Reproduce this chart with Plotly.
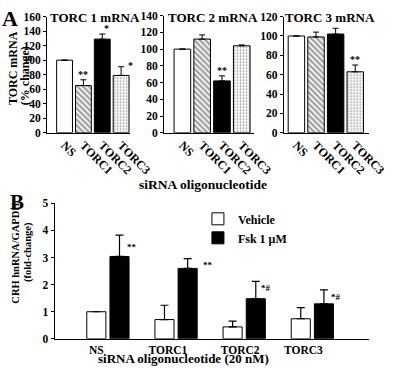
import plotly.graph_objects as go

# ---------------- data ----------------
a_categories = ["NS", "TORC1", "TORC2", "TORC3"]
a_titles = ["TORC 1 mRNA", "TORC 2 mRNA", "TORC 3 mRNA"]
a1_values = [100, 65, 129, 79]
a1_errors = [0, 8, 7, 12]
a1_stars = ["", "**", "*", "*"]
a2_values = [100, 112, 62, 104]
a2_errors = [0, 5, 6, 1]
a2_stars = ["", "", "**", ""]
a3_values = [100, 99, 102, 63]
a3_errors = [0, 5, 6, 7]
a3_stars = ["", "", "", "**"]
a_ymax = [160, 140, 120]

b_categories = ["NS", "TORC1", "TORC2", "TORC3"]
b_vehicle = [1.0, 0.71, 0.44, 0.74]
b_vehicle_err = [0, 0.53, 0.21, 0.41]
b_fsk = [3.04, 2.6, 1.48, 1.29]
b_fsk_err = [0.79, 0.36, 0.64, 0.52]
b_fsk_stars = ["**", "**", "*#", "*#"]
b_series = ["Vehicle", "Fsk 1 \u03bcM"]

FONT = "Liberation Serif"
W, H = 400, 369


def px_x(p):
    return p / W


def px_y(p):
    return 1 - p / H


fig = go.Figure()

# ---------------- panel A ----------------
a_vals = [a1_values, a2_values, a3_values]
a_errs = [a1_errors, a2_errors, a3_errors]
a_stars = [a1_stars, a2_stars, a3_stars]
# pixel geometry per panel: (axis x, first centre, spacing, right end, top px)
a_geom = [(50, 68.5, 20.0, 138, 11), (174, 193.5, 21.0, 269, 10), (301, 314.5, 20.8, 392, 11)]
a_title_cx = [101, 226, 350]
bar_colors = ["white", "white", "black", "white"]
pat_shapes = ["", "\\", "", "."]
pat_fg = ["black", "black", "black", "#555555"]
pat_size = [4, 4, 4, 3]
pat_sol = [0.3, 0.6, 0.3, 0.3]

for k in range(3):
    ax_x, c0, sp, right, top = a_geom[k]
    xa = "x" if k == 0 else f"x{k+1}"
    ya = "y" if k == 0 else f"y{k+1}"
    fig.add_trace(go.Bar(
        x=list(range(len(a_categories))), y=a_vals[k], width=0.84,
        marker=dict(color=bar_colors, line=dict(color="black", width=1),
                    pattern=dict(shape=pat_shapes, fgcolor=pat_fg,
                                 size=pat_size, solidity=pat_sol)),
        error_y=dict(type="data", symmetric=False, array=a_errs[k],
                     arrayminus=[0] * 4, color="black", thickness=1, width=3),
        xaxis=xa, yaxis=ya, showlegend=False,
    ))
    axname = "xaxis" if k == 0 else f"xaxis{k+1}"
    yname = "yaxis" if k == 0 else f"yaxis{k+1}"
    fig.layout[axname] = dict(
        domain=[px_x(ax_x), px_x(right)], range=[(ax_x - c0) / sp, (right - c0) / sp],
        tickvals=list(range(4)), ticktext=a_categories, tickangle=45,
        showline=True, linecolor="black", linewidth=1, ticks="", ticklen=0,
        showgrid=False, zeroline=False, anchor=ya,
        tickfont=dict(family=FONT, size=12, color="black", weight="bold"),
    )
    fig.layout[yname] = dict(
        domain=[px_y(131), px_y(top)],
        range=[0, a_ymax[k]], dtick=20,
        showline=True, linecolor="black", linewidth=1, ticks="outside",
        ticklen=3, tickcolor="black", showgrid=False, zeroline=False,
        anchor=xa,
        tickfont=dict(family=FONT, size=11.5, color="black", weight="bold"),
    )
    fig.add_annotation(text=f"<b>{a_titles[k]}</b>", x=px_x(a_title_cx[k]), y=px_y(12),
                       xref="paper", yref="paper", xanchor="center", yanchor="middle",
                       showarrow=False, font=dict(family=FONT, size=13, color="black"))
    for i, s in enumerate(a_stars[k]):
        if not s:
            continue
        xshift, yshift = 0, 0
        if k == 0 and i == 2:
            xshift = 4
        if k == 0 and i == 3:
            xshift, yshift = 9, -4
        fig.add_annotation(text=f"<b>{s}</b>", x=i, y=a_vals[k][i] + a_errs[k][i], xref=xa, yref=ya,
                           showarrow=False, xanchor="center", yanchor="bottom",
                           xshift=xshift, yshift=yshift - 2,
                           font=dict(family=FONT, size=10, color="black"))

# ---------------- panel B ----------------
b_x = list(range(len(b_categories)))
off = 0.17
fig.add_trace(go.Bar(
    x=[v - off for v in b_x], y=b_vehicle, width=0.28, name=b_series[0],
    marker=dict(color="white", line=dict(color="black", width=1)),
    error_y=dict(type="data", symmetric=False, array=b_vehicle_err, arrayminus=[0] * 4,
                 color="black", thickness=1.2, width=4),
    xaxis="x4", yaxis="y4", legendgroup="v",
))
fig.add_trace(go.Bar(
    x=[v + off for v in b_x], y=b_fsk, width=0.28, name=b_series[1],
    marker=dict(color="black", line=dict(color="black", width=1)),
    error_y=dict(type="data", symmetric=False, array=b_fsk_err, arrayminus=[0] * 4,
                 color="black", thickness=1.2, width=4),
    xaxis="x4", yaxis="y4", legendgroup="f",
))
star_dx = [5, 13, 3, 5]
star_dy = [12, 6, 7, 7]
for i, s in enumerate(b_fsk_stars):
    fig.add_annotation(text=f"<b>{s}</b>", x=i + off, y=b_fsk[i] + b_fsk_err[i], xref="x4", yref="y4",
                       showarrow=False, xanchor="left", yanchor="middle",
                       xshift=star_dx[i], yshift=-star_dy[i],
                       font=dict(family=FONT, size=9, color="black"))

c0, sp = 114.5, 72.3
label_shift = [-0.17, -0.12, -0.06, -0.13]
fig.layout.xaxis4 = dict(
    domain=[px_x(58), px_x(392)], range=[(58 - c0) / sp, (392 - c0) / sp],
    tickvals=[v + d for v, d in zip(b_x, label_shift)], ticktext=b_categories, tickangle=0,
    showline=True, linecolor="black", linewidth=1, ticks="", ticklen=0, showgrid=False,
    zeroline=False, anchor="y4",
    tickfont=dict(family=FONT, size=11.5, color="black", weight="bold"),
)
fig.layout.yaxis4 = dict(
    domain=[px_y(344), px_y(204)], range=[0, 5], dtick=1,
    showline=True, linecolor="black", linewidth=1, ticks="outside", ticklen=3,
    tickcolor="black", showgrid=False, zeroline=False, anchor="x4",
    tickfont=dict(family=FONT, size=11.5, color="black", weight="bold"),
)


def label(text, x, y, size, angle=0, yanchor="middle"):
    fig.add_annotation(text=text, x=px_x(x), y=px_y(y), xref="paper", yref="paper",
                       xanchor="center", yanchor=yanchor, textangle=angle,
                       showarrow=False, font=dict(family=FONT, size=size, color="black"))


label("<b>A</b>", 11, 13, 22)
label("<b>B</b>", 18, 203, 21)
label("<b>TORC mRNA</b>", 14, 64, 12, -90)
label("<b>(% change)</b>", 26, 72, 12, -90)
label("<b>siRNA oligonucleotide</b>", 215, 184, 13.5)
label("<b>CRH hnRNA/GAPDH</b>", 17, 256, 10.5, -90)
label("<b>(fold-change)</b>", 29, 254, 10.5, -90)
label("<b>siRNA oligonucleotide (20 nM)</b>", 195, 364.5, 13)

fig.update_layout(
    width=W, height=H, margin=dict(l=0, r=0, t=0, b=0),
    paper_bgcolor="white", plot_bgcolor="white",
    barmode="overlay",
    legend=dict(x=px_x(210), y=px_y(205), xanchor="left", yanchor="top",
                bgcolor="rgba(0,0,0,0)", tracegroupgap=11, traceorder="normal",
                font=dict(family=FONT, size=12, color="black", weight="bold")),
)

fig.write_html("out.html", config={"displayModeBar": False},
               post_script="document.body.style.margin='0';")
